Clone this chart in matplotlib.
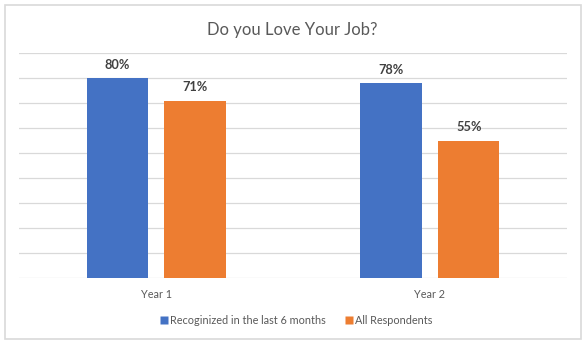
import matplotlib
matplotlib.use("Agg")
import matplotlib.pyplot as plt
from matplotlib.patches import Rectangle
from matplotlib.lines import Line2D
import numpy as np

categories = ["Year 1", "Year 2"]
series_names = ["Recoginized in the last 6 months", "All Respondents"]
recognized = [0.80, 0.78]
all_respondents = [0.71, 0.55]

BLUE = "#4472C4"
ORANGE = "#ED7D31"
GRID = "#D9D9D9"
TEXT = "#595959"
LABEL = "#404040"

plt.rcParams["font.family"] = ["Lato", "DejaVu Sans"]

fig = plt.figure(figsize=(5.88, 3.48), dpi=100)
ax = fig.add_axes([19.3 / 588, 1 - 278.3 / 348, 547.4 / 588, 225 / 348])

x = np.arange(len(categories))
width = 0.223
offset = 0.142
for vals, color, shift in ((recognized, BLUE, -offset),
                           (all_respondents, ORANGE, offset)):
    bars = ax.bar(x + shift, vals, width=width, color=color, zorder=3)
    for b, v in zip(bars, vals):
        ax.annotate(f"{v:.0%}", (b.get_x() + b.get_width() / 2, v),
                    xytext=(0, 5.5), textcoords="offset points",
                    ha="center", va="bottom", fontsize=9.2,
                    fontweight="bold", color=LABEL)

ax.set_xlim(-0.5, len(categories) - 0.5)
ax.set_ylim(0, 0.9)
ax.set_yticks(np.arange(0, 0.91, 0.1))
ax.yaxis.grid(True, color=GRID, linewidth=0.9, zorder=0)
ax.set_yticklabels([])
ax.tick_params(axis="both", length=0)
ax.set_xticks(x)
ax.set_xticklabels(categories, fontsize=7.8, color=TEXT)
ax.tick_params(axis="x", pad=8)
for s in ax.spines.values():
    s.set_visible(False)

fig.text(292.5 / 588, 1 - 30 / 348, "Do you Love Your Job?",
         ha="center", va="center", fontsize=12, color=TEXT)

handles = [Line2D([0], [0], marker="s", linestyle="", markersize=6,
                  markerfacecolor=c, markeredgecolor="none", label=n)
           for c, n in zip((BLUE, ORANGE), series_names)]
fig.legend(handles=handles, loc="center", ncol=2,
           bbox_to_anchor=(295.5 / 588, 1 - 320 / 348), frameon=False,
           fontsize=7.8, labelcolor=TEXT, handletextpad=0.1,
           columnspacing=1.6, handlelength=1.0)

fig.patches.append(Rectangle((5 / 588, 1 - 339 / 348), 576 / 588, 334 / 348,
                             transform=fig.transFigure, fill=False,
                             edgecolor=GRID, linewidth=1.2))

fig.savefig("out.png", dpi=100)
